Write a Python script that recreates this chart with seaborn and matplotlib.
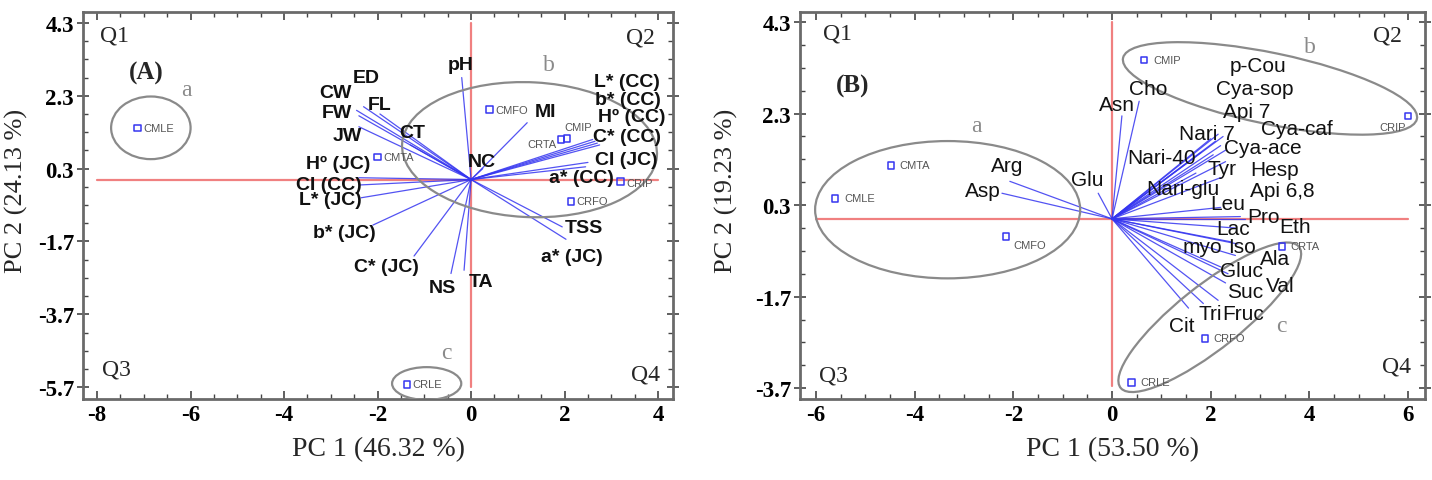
import matplotlib
matplotlib.use("Agg")
import matplotlib.pyplot as plt
from matplotlib.patches import Ellipse
from matplotlib.ticker import FixedLocator
import numpy as np
import pandas as pd
import seaborn as sns

sns.set_theme(style="ticks")
plt.rcParams['font.family'] = ['Liberation Serif', 'DejaVu Serif']

# ---------------- panel A (physico-chemical) ----------------
a_vars = ["pH", "ED", "CW", "FL", "FW", "JW", "CT", "H\u00ba (JC)", "CI (CC)", "L* (JC)",
          "b* (JC)", "C* (JC)", "NS", "TA", "TSS", "a* (JC)", "a* (CC)", "CI (JC)",
          "C* (CC)", "H\u00ba (CC)", "b* (CC)", "L* (CC)", "MI", "NC"]
a_end_x = [-0.2, -2.3, -2.45, -1.95, -2.4, -2.4, -1.3, -2.4, -2.4, -2.35,
           -2.1, -1.22, -0.43, -0.15, 1.95, 2.03, 2.45, 2.5,
           2.75, 2.7, 2.65, 2.6, 1.2, 0.25]
a_end_y = [2.8, 2.0, 1.9, 1.8, 1.75, 1.45, 0.95, 0.05, -0.15, -0.5,
           -1.25, -2.1, -2.58, -2.49, -1.3, -1.64, 0.35, 0.47,
           0.95, 1.0, 1.05, 1.1, 1.56, 0.3]
a_lab_x = [-0.22, -2.25, -2.9, -1.95, -2.88, -2.65, -1.25, -2.85, -3.05, -3.0,
           -2.72, -1.8, -0.62, 0.22, 2.42, 2.15, 2.35, 3.32,
           3.34, 3.43, 3.35, 3.33, 1.6, 0.24]
a_lab_y = [3.15, 2.8, 2.38, 2.07, 1.84, 1.22, 1.3, 0.45, -0.14, -0.55,
           -1.45, -2.38, -2.96, -2.8, -1.32, -2.1, 0.05, 0.55,
           1.18, 1.73, 2.19, 2.68, 1.86, 0.5]

a_samples = ["CMLE", "CMTA", "CMFO", "CMIP", "CRTA", "CRIP", "CRFO", "CRLE"]
a_samp_x = [-7.14, -2.0, 0.39, 2.05, 1.92, 3.2, 2.14, -1.37]
a_samp_y = [1.42, 0.62, 1.92, 1.12, 1.1, -0.05, -0.6, -5.62]

# ---------------- panel B (metabolites) ----------------
b_vars = ["Asn", "Cho", "Glu", "Arg", "Asp", "p-Cou", "Cya-sop", "Api 7", "Cya-caf",
          "Nari 7", "Cya-ace", "Nari-40", "Tyr", "Hesp", "Nari-glu", "Api 6,8",
          "Leu", "Pro", "Eth", "Lac", "myo", "Iso", "Ala", "Gluc", "Val", "Suc",
          "Tri", "Fruc", "Cit"]
b_end_x = [0.2, 0.55, -0.28, -2.07, -2.23, 2.15, 2.0, 2.1, 2.3,
           2.25, 2.2, 1.8, 2.05, 2.3, 1.7, 2.2,
           2.2, 2.6, 2.7, 2.5, 2.4, 2.55, 2.5, 2.2, 2.35, 2.3,
           1.85, 2.15, 1.55]
b_end_y = [2.25, 2.57, 0.56, 0.82, 0.56, 1.85, 1.75, 1.7, 1.5,
           1.8, 1.6, 1.45, 1.4, 1.25, 1.0, 0.9,
           0.25, 0.05, 0.0, -0.2, -0.5, -0.55, -0.8, -1.05, -1.2, -1.4,
           -1.85, -1.78, -1.95]
b_lab_x = [0.1, 0.73, -0.5, -2.13, -2.61, 2.96, 2.9, 2.73, 3.75,
           1.92, 3.06, 1.01, 2.23, 3.3, 1.44, 3.44,
           2.35, 3.06, 3.71, 2.45, 1.84, 2.63, 3.3, 2.63, 3.4, 2.7,
           1.99, 2.65, 1.42]
b_lab_y = [2.49, 2.84, 0.85, 1.17, 0.63, 3.36, 2.84, 2.35, 1.98,
           1.87, 1.55, 1.33, 1.11, 1.07, 0.67, 0.63,
           0.34, 0.06, -0.16, -0.2, -0.6, -0.6, -0.86, -1.12, -1.45, -1.58,
           -2.06, -2.06, -2.34]

b_samples = ["CMTA", "CMLE", "CMFO", "CMIP", "CRIP", "CRTA", "CRFO", "CRLE"]
b_samp_x = [-4.48, -5.61, -2.15, 0.65, 6.0, 3.44, 1.88, 0.39]
b_samp_y = [1.17, 0.45, -0.38, 3.47, 2.25, -0.6, -2.61, -3.57]

BLUE = "#3535f0"
GREY = "#8a8a8a"

fig = plt.figure(figsize=(14.32, 4.81), dpi=100)
axA = fig.add_axes([0.058, 0.168, 0.412, 0.805])
axB = fig.add_axes([0.5587, 0.168, 0.4364, 0.805])


def frame(ax, xlim, ylim, xmaj, ymaj, xlabel, ylabel, ylab_x):
    ax.set_xlim(*xlim)
    ax.set_ylim(*ylim)
    ax.xaxis.set_major_locator(FixedLocator(xmaj))
    ax.yaxis.set_major_locator(FixedLocator(ymaj))
    ax.xaxis.set_minor_locator(FixedLocator(np.arange(xmaj[0], xmaj[-1] + 0.01, 0.5)))
    ax.yaxis.set_minor_locator(FixedLocator(np.arange(ymaj[-1], ymaj[0] + 0.01, 0.5)))
    ax.set_xticklabels([f"{v:g}" for v in xmaj])
    ax.set_yticklabels([f"{v:.1f}" for v in ymaj])
    ax.tick_params(which="both", top=True, right=True, direction="in", colors="#444",
                   labelcolor="black", labelsize=16.5)
    ax.tick_params(axis="y", which="major", direction="inout", length=9, width=1.2, pad=2)
    ax.tick_params(axis="x", which="major", length=6, width=1.2)
    ax.tick_params(which="minor", length=3.5, width=1)
    for lab in ax.get_xticklabels() + ax.get_yticklabels():
        lab.set_fontweight("bold")
    for s in ax.spines.values():
        s.set_color("#6a6a6a")
        s.set_linewidth(2)
    ax.set_xlabel(xlabel, fontsize=20, labelpad=8)
    ax.set_ylabel(ylabel, fontsize=19)
    ax.yaxis.set_label_coords(ylab_x, 0.54)


def vectors(ax, ex, ey, names, lx, ly, size, weight):
    for x, y in zip(ex, ey):
        ax.plot([0, x], [0, y], color=BLUE, lw=0.9, alpha=0.85, zorder=3)
    for n, x, y in zip(names, lx, ly):
        ax.text(x, y, n, ha="center", va="center", fontsize=size, fontweight=weight,
                family=["Liberation Sans", "DejaVu Sans"], color="#111", zorder=5)


def samples(ax, names, sx, sy, offsets):
    df = pd.DataFrame({"x": sx, "y": sy, "name": names})
    sns.scatterplot(data=df, x="x", y="y", marker="s", s=22, facecolor="none",
                    edgecolor=BLUE, linewidth=1.1, ax=ax, zorder=4)
    for n, x, y, (dx, dy, ha) in zip(names, sx, sy, offsets):
        ax.text(x + dx, y + dy, n, ha=ha, va="center", fontsize=8,
                family=["Liberation Sans", "DejaVu Sans"], color="#555", zorder=5)


# ---- panel A
frame(axA, (-8.3, 4.32), (-6.03, 4.6), [-8, -6, -4, -2, 0, 2, 4],
      [4.3, 2.3, 0.3, -1.7, -3.7, -5.7], "PC 1 (46.32 %)", "PC 2 (24.13 %)", -0.093)
axA.plot([-8, 4], [0, 0], color="#f08080", lw=1.6, zorder=2)
axA.plot([0, 0], [-5.7, 4.3], color="#f08080", lw=1.6, zorder=2)
vectors(axA, a_end_x, a_end_y, a_vars, a_lab_x, a_lab_y, 14, "bold")
samples(axA, a_samples, a_samp_x, a_samp_y,
        [(0.12, 0, "left"), (0.12, 0, "left"), (0.12, 0, "left"), (-0.05, 0.32, "left"),
         (-0.1, -0.12, "right"), (0.12, -0.05, "left"), (0.12, 0, "left"), (0.12, 0, "left")])
axA.add_patch(Ellipse((-6.85, 1.42), 1.7, 1.72, fill=False, ec=GREY, lw=1.6, zorder=3))
axA.add_patch(Ellipse((1.25, 0.82), 5.46, 3.7, angle=-4, fill=False, ec=GREY, lw=1.6, zorder=3))
axA.add_patch(Ellipse((-0.95, -5.6), 1.48, 0.9, fill=False, ec=GREY, lw=1.6, zorder=3))
for t, x, y in [("a", -6.08, 2.47), ("b", 1.67, 3.15), ("c", -0.53, -4.74)]:
    axA.text(x, y, t, fontsize=17, color=GREY, ha="center", va="center")
axA.text(-6.95, 2.93, "(A)", fontsize=18, fontweight="bold", ha="center", va="center")
for t, x, y in [("Q1", -7.62, 3.97), ("Q2", 3.62, 3.92), ("Q3", -7.58, -5.2), ("Q4", 3.74, -5.34)]:
    axA.text(x, y, t, fontsize=17, ha="center", va="center")

# ---- panel B
frame(axB, (-6.32, 6.34), (-3.94, 4.52), [-6, -4, -2, 0, 2, 4, 6],
      [4.3, 2.3, 0.3, -1.7, -3.7], "PC 1 (53.50 %)", "PC 2 (19.23 %)", -0.099)
axB.plot([-6, 6], [0, 0], color="#f08080", lw=1.6, zorder=2)
axB.plot([0, 0], [-3.65, 4.3], color="#f08080", lw=1.6, zorder=2)
vectors(axB, b_end_x, b_end_y, b_vars, b_lab_x, b_lab_y, 15, "normal")
samples(axB, b_samples, b_samp_x, b_samp_y,
        [(0.18, 0, "left"), (0.18, 0, "left"), (0.15, -0.2, "left"), (0.18, 0, "left"),
         (-0.05, -0.25, "right"), (0.18, 0, "left"), (0.18, 0, "left"), (0.18, 0, "left")])
axB.add_patch(Ellipse((-3.33, 0.2), 5.37, 3.0, fill=False, ec=GREY, lw=1.6, zorder=3))
axB.add_patch(Ellipse((3.2, 2.85), 6.1, 1.55, angle=-12.7, fill=False, ec=GREY, lw=1.6, zorder=3))
axB.add_patch(Ellipse((1.98, -2.15), 4.75, 1.35, angle=40.8, fill=False, ec=GREY, lw=1.6, zorder=3))
for t, x, y in [("a", -2.74, 2.05), ("b", 4.0, 3.77), ("c", 3.44, -2.32)]:
    axB.text(x, y, t, fontsize=17, color=GREY, ha="center", va="center")
axB.text(-5.25, 2.92, "(B)", fontsize=18, fontweight="bold", ha="center", va="center")
for t, x, y in [("Q1", -5.57, 4.06), ("Q2", 5.57, 4.02), ("Q3", -5.65, -3.42), ("Q4", 5.77, -3.22)]:
    axB.text(x, y, t, fontsize=17, ha="center", va="center")

plt.savefig("out.png", dpi=100)
